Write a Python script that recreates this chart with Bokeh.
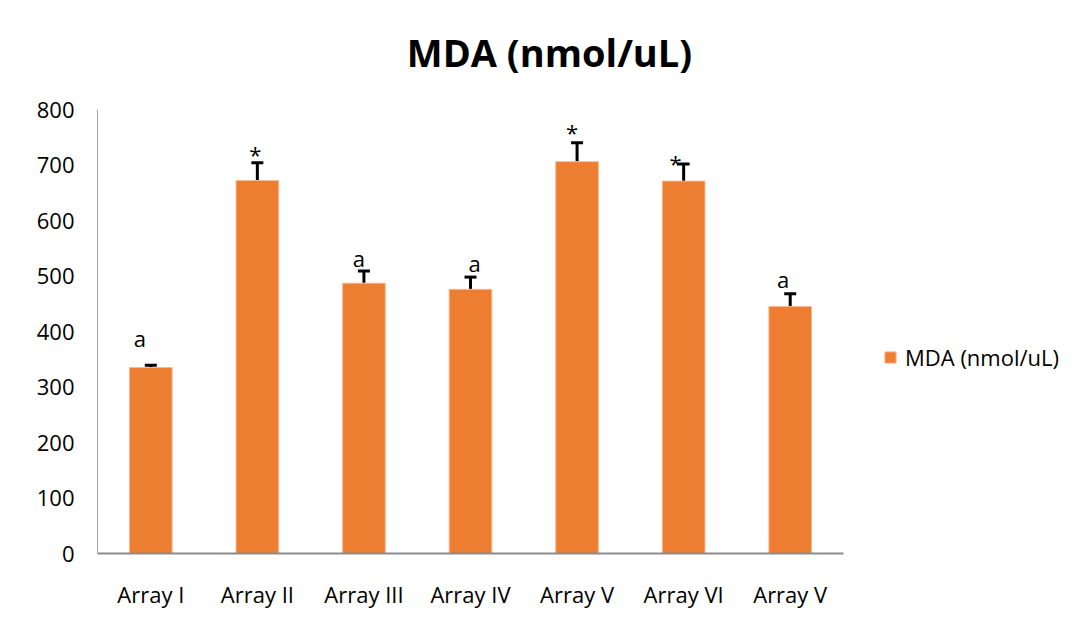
from bokeh.plotting import figure
from bokeh.models import ColumnDataSource, Range1d, FixedTicker, Whisker, TeeHead, Legend, Label
from bokeh.core.properties import value
from bokeh.embed import file_html
from bokeh.resources import INLINE

categories = ["Array I", "Array II", "Array III", "Array IV", "Array V", "Array VI", "Array V"]
mda_values = [335, 672, 487, 476, 706, 671, 445]
mda_errors = [4, 32, 22, 22, 34, 31, 23]
sig_labels = ["a", "*", "a", "a", "*", "*", "a"]
y_ticks = [0, 100, 200, 300, 400, 500, 600, 700, 800]
y_max = 800
series_name = "MDA (nmol/uL)"
title_text = "MDA (nmol/uL)"

# label nudges (screen px), style only
label_dx = [-11, -2, -5, 4, -5, -8, -7]
label_dy = [-27, -9, -13, -14, -11, -1, -15]

FONT = "Open Sans"
BAR = "#ED7D31"

# layout geometry (px): plotting area spans 746 px for the 7 groups, 444 px for 0..800
W, H = 1086, 632
LEFT, BOTTOM = 97, 79
AXIS_W_PX, AXIS_H_PX = 746, 444
frame_w = W - LEFT
frame_h = H - BOTTOM
n = len(categories)
x_end = n * frame_w / AXIS_W_PX
y_end = y_max * frame_h / AXIS_H_PX

xpos = [i + 0.5 for i in range(n)]
src = ColumnDataSource(dict(
    x=xpos,
    top=mda_values,
    upper=[v + e for v, e in zip(mda_values, mda_errors)],
    lower=mda_values,
    lab=sig_labels,
    dx=label_dx,
    dy=label_dy,
))

p = figure(width=W, height=H, output_backend="svg", toolbar_location=None,
           x_range=Range1d(0, x_end), y_range=Range1d(0, y_end),
           min_border_left=LEFT, min_border_right=0, min_border_top=0, min_border_bottom=BOTTOM)
p.outline_line_color = None
p.xgrid.grid_line_color = None
p.ygrid.grid_line_color = None
p.background_fill_color = "white"
p.border_fill_color = "white"

bars = p.vbar(x="x", top="top", width=0.4, bottom=0, source=src, fill_color=BAR,
              line_color="#F6B88F", line_width=1)

w = Whisker(base="x", upper="upper", lower="lower", source=src,
            upper_head=TeeHead(size=12, line_width=3, line_color="black"),
            lower_head=None, line_width=3, line_color="black")
p.add_layout(w)

p.text(x="x", y="upper", text="lab", source=src, x_offset="dx", y_offset="dy",
       text_align="center", text_baseline="alphabetic",
       text_font=value(FONT), text_font_size="22px", text_color="black")

# axes
p.xaxis.ticker = FixedTicker(ticks=xpos)
p.xaxis.major_label_overrides = {x: c for x, c in zip(xpos, categories)}
p.xaxis.bounds = (0, n)
p.yaxis.ticker = FixedTicker(ticks=y_ticks)
p.yaxis.bounds = (0, y_max)
for ax in (p.xaxis, p.yaxis):
    ax.major_tick_line_color = None
    ax.minor_tick_line_color = None
    ax.major_label_text_font = FONT
    ax.major_label_text_font_size = "22px"
    ax.major_label_text_color = "#000000"
p.xaxis.axis_line_color = "#8C8C8C"
p.xaxis.axis_line_width = 2
p.yaxis.axis_line_color = "#A6A6A6"
p.yaxis.axis_line_width = 1
p.xaxis.major_label_standoff = 19
p.yaxis.major_label_standoff = 17

# title
p.add_layout(Label(x=452, y=502, x_units="screen", y_units="screen", text=title_text,
                   text_align="center", text_baseline="alphabetic",
                   text_font=FONT, text_font_style="bold", text_font_size="38px",
                   text_color="black"))

# legend
lg = Legend(items=[(series_name, [bars])])
lg.location = (786, 181)
lg.padding = 0
lg.margin = 0
lg.border_line_color = None
lg.background_fill_alpha = 0
lg.glyph_width = 14
lg.glyph_height = 14
lg.label_standoff = 8
lg.label_text_font = FONT
lg.label_text_font_size = "22px"
lg.label_text_color = "#000000"
p.add_layout(lg, "center")

open("out.html", "w").write(file_html(p, INLINE))
